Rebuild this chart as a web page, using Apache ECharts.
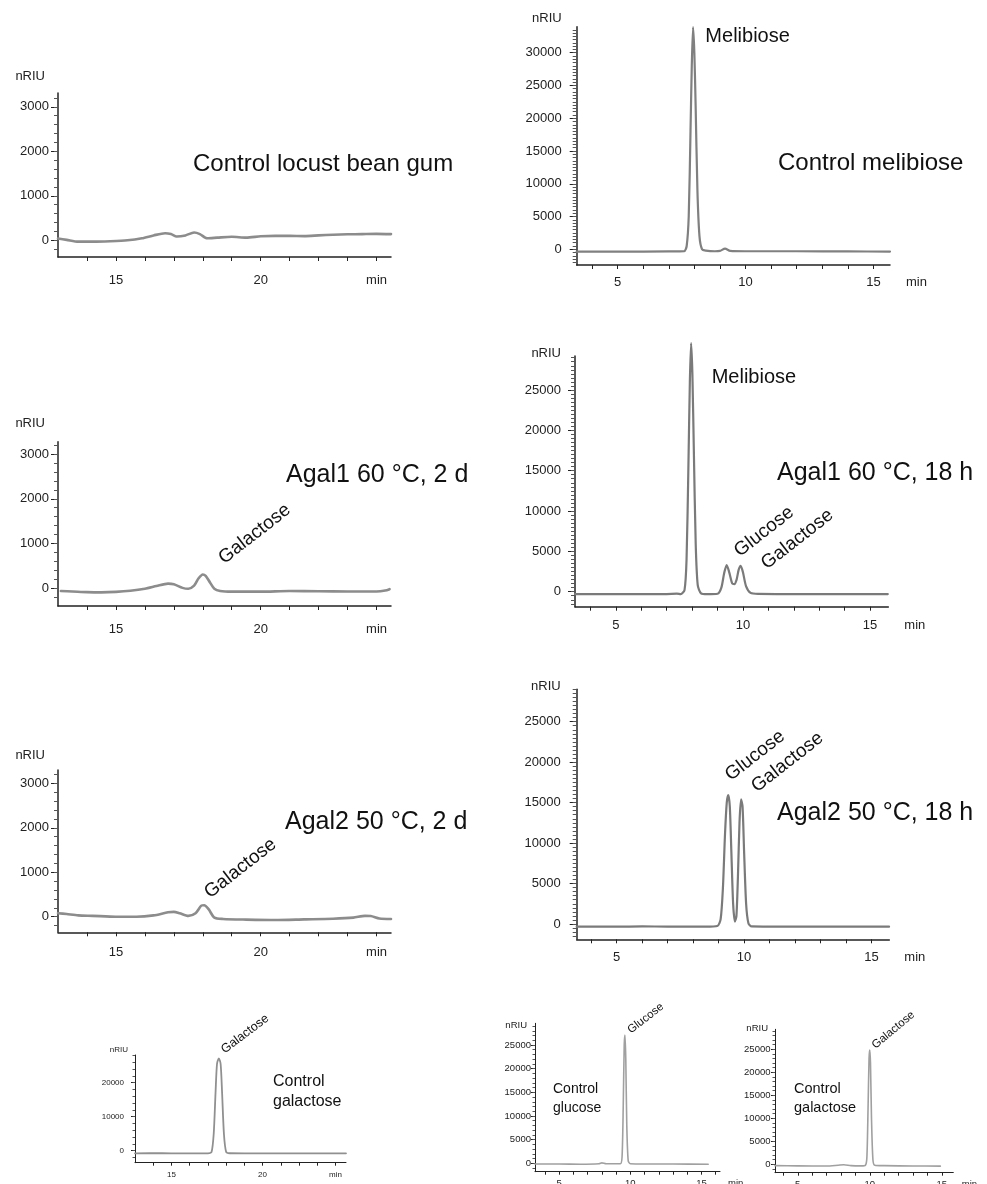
<!DOCTYPE html>
<html>
<head>
    <meta charset="utf-8">
    <script src="https://cdn.jsdelivr.net/npm/echarts@6/dist/echarts.min.js"></script>
</head>
<body style="margin:0;background:#fff">
<div id="main" style="width:987px;height:1184px;"></div>
<script type="text/javascript">
    // traces: [retention time (min), signal (nRIU)]
    var locustBeanGum = [[13.0, 40], [13.3, 10], [13.7, -30], [14.2, -30], [14.8, -20], [15.4, 0], [15.9, 45], [16.3, 110],
        [16.7, 160], [16.9, 140], [17.1, 85], [17.4, 110], [17.7, 175], [17.9, 140], [18.15, 45], [18.5, 60], [19.0, 80],
        [19.5, 60], [20.0, 90], [20.5, 100], [21.0, 100], [21.5, 95], [22.0, 110], [22.5, 125], [23.0, 135], [23.5, 140],
        [24.0, 145], [24.5, 140]];
    var melibiose = [[3.4, -350], [5.0, -350], [7.0, -330], [7.6, -300], [7.7, 500], [7.78, 5000], [7.85, 18000],
        [7.9, 28000], [7.95, 33900], [8.0, 30000], [8.05, 22000], [8.12, 9000], [8.2, 2000], [8.3, 0], [8.45, -200],
        [8.8, -300], [9.0, -250], [9.2, 100], [9.4, -250], [10.0, -300], [12.0, -300], [14.0, -330], [15.65, -350]];
    var agal1TwoDays = [[13.1, -60], [13.5, -70], [14.0, -85], [14.5, -90], [15.0, -80], [15.5, -55], [16.0, -10],
        [16.4, 50], [16.8, 105], [17.0, 90], [17.3, 10], [17.5, -10], [17.7, 60], [17.85, 220], [18.0, 310], [18.1, 280],
        [18.25, 130], [18.4, -10], [18.6, -60], [19.0, -75], [20.0, -75], [21.0, -60], [22.0, -65], [23.0, -70],
        [24.0, -70], [24.3, -50], [24.45, -20]];
    var agal1Overnight = [[3.39, -300], [5.0, -300], [7.0, -290], [7.4, -250], [7.55, -300], [7.7, 200], [7.78, 4000],
        [7.85, 15000], [7.91, 26000], [7.96, 30800], [8.01, 27000], [8.07, 17000], [8.14, 6000], [8.22, 800],
        [8.35, -200], [8.6, -300], [9.0, -250], [9.15, 500], [9.26, 2300], [9.36, 3300], [9.46, 2400], [9.58, 1000],
        [9.66, 950], [9.75, 1500], [9.83, 2700], [9.91, 3200], [10.0, 2400], [10.12, 700], [10.3, -150], [10.6, -280],
        [12.0, -300], [14.0, -300], [15.7, -300]];
    var agal2TwoDays = [[13.0, 80], [13.3, 60], [13.7, 30], [14.2, 20], [15.0, 0], [15.7, 0], [16.3, 30], [16.8, 100],
        [17.0, 110], [17.2, 80], [17.5, 20], [17.75, 80], [17.95, 250], [18.05, 260], [18.2, 170], [18.4, -20],
        [18.7, -50], [19.5, -65], [20.5, -75], [21.5, -60], [22.5, -45], [23.2, -20], [23.6, 20], [23.8, 15],
        [24.1, -40], [24.5, -50]];
    var agal2Overnight = [[3.43, -330], [5.0, -330], [6.0, -300], [7.0, -320], [8.5, -330], [8.95, -250], [9.08, 600],
        [9.17, 4500], [9.25, 11000], [9.32, 15000], [9.38, 15940], [9.44, 14500], [9.5, 9000], [9.57, 2500], [9.64, 300],
        [9.7, 1000], [9.76, 6000], [9.82, 12500], [9.88, 15400], [9.94, 14500], [10.0, 9000], [10.08, 2500],
        [10.17, 100], [10.3, -300], [12.0, -330], [15.69, -330]];
    var galactoseLongColumn = [[13.0, -770], [14.5, -750], [15.5, -800], [16.5, -780], [17.0, -760], [17.2, -400],
        [17.32, 5000], [17.42, 17000], [17.5, 25500], [17.6, 27180], [17.7, 25500], [17.78, 17000], [17.88, 5000],
        [18.0, -300], [18.2, -750], [19.0, -770], [21.0, -770], [23.0, -780], [24.58, -780]];
    var glucoseStandard = [[3.3, -150], [5.0, -150], [6.5, -200], [7.8, -100], [8.0, 100], [8.3, -100], [9.3, -100],
        [9.42, 1500], [9.5, 12000], [9.57, 25000], [9.62, 27110], [9.68, 22000], [9.75, 8000], [9.85, 500],
        [10.0, -100], [11.0, -150], [13.0, -150], [15.47, -200]];
    var galactoseStandard = [[3.42, -300], [5.0, -350], [7.0, -370], [7.8, -200], [8.2, -100], [8.7, -300],
        [9.4, -350], [9.7, -200], [9.8, 1500], [9.88, 12000], [9.95, 23000], [10.0, 24850], [10.05, 22000],
        [10.12, 10000], [10.22, 1000], [10.35, -200], [11.0, -300], [13.0, -370], [14.9, -400]];

    // axis ticks and labels
    var shortRunTicks = [14, 15, 16, 17, 18, 19, 20, 21, 22, 23, 24];
    var shortRunLabels = [15, 20, 24];
    var longRunTicks = [4, 5, 6, 7, 8, 9, 10, 11, 12, 13, 14, 15];
    var longRunLabels = [5, 10, 15];
    var lowSignalLabels = [0, 1000, 2000, 3000];
    var highSignalLabels = [0, 5000, 10000, 15000, 20000, 25000, 30000];
    var standardLabels = [0, 10000, 20000];

    var FONT = '"Liberation Sans", Arial, Helvetica, sans-serif';

    var big = {font: 13, majorLen: 7, minorLen: 4, xTickLen: 4, axisWidth: 1.5};
    var small = {font: 8, majorLen: 4, minorLen: 2.5, xTickLen: 3, axisWidth: 1};
    var smallB = {font: 9.5, majorLen: 4, minorLen: 2.5, xTickLen: 3, axisWidth: 1};

    var panels = [
        {trace: locustBeanGum, grid: {left: 58, top: 93, width: 333, height: 164}, x: [13, 24.5], y: [-375, 3310],
            xTicks: shortRunTicks, xLabels: shortRunLabels, yLabels: lowSignalLabels, minor: 200, st: big,
            xMargin: 17, yMargin: 9, nameGap: 17, namePad: 13, line: ['#8c8c8c', 2.6],
            title: {text: 'Control locust bean gum', x: 193, y: 164, size: 24}, notes: []},
        {trace: melibiose, grid: {left: 576.7, top: 26.7, width: 313.3, height: 238.3}, x: [3.4, 15.65], y: [-2400, 33970],
            xTicks: longRunTicks, xLabels: longRunLabels, yLabels: highSignalLabels, minor: 500, st: big,
            xMargin: 11, yMargin: 15, nameGap: 8, namePad: 15, xName: [16, 11], line: ['#808080', 2.2],
            title: {text: 'Control melibiose', x: 778, y: 163, size: 24},
            notes: [{text: 'Melibiose', at: [8.43, 32550], angle: 0, size: 20, align: 'left'}]},
        {trace: agal1TwoDays, grid: {left: 58, top: 441.7, width: 333, height: 164.3}, x: [13, 24.5], y: [-395, 3275],
            xTicks: shortRunTicks, xLabels: shortRunLabels, yLabels: lowSignalLabels, minor: 200, st: big,
            xMargin: 17, yMargin: 9, nameGap: 18, namePad: 13, line: ['#8c8c8c', 2.6],
            title: {text: 'Agal1 60 °C, 2 d', x: 286, y: 475, size: 25},
            notes: [{text: 'Galactose', at: [19.79, 1213], angle: 38, size: 19}]},
        {trace: agal1Overnight, grid: {left: 575, top: 356, width: 313.3, height: 250.7}, x: [3.39, 15.72], y: [-1860, 29210],
            xTicks: longRunTicks, xLabels: longRunLabels, yLabels: highSignalLabels, minor: 500, st: big,
            xMargin: 12, yMargin: 14, nameGap: 3, namePad: 14, xName: [16, 12], line: ['#7a7a7a', 2.2],
            title: {text: 'Agal1 60 °C, 18 h', x: 777, y: 473, size: 25},
            notes: [{text: 'Melibiose', at: [8.77, 26490], angle: 0, size: 20, align: 'left'},
                {text: 'Glucose', at: [10.83, 7437], angle: 38, size: 19},
                {text: 'Galactose', at: [12.14, 6495], angle: 38, size: 19}]},
        {trace: agal2TwoDays, grid: {left: 58, top: 770, width: 333, height: 162.3}, x: [13, 24.5], y: [-350, 3300],
            xTicks: shortRunTicks, xLabels: shortRunLabels, yLabels: lowSignalLabels, minor: 200, st: big,
            xMargin: 14, yMargin: 9, nameGap: 15, namePad: 13, line: ['#8c8c8c', 2.6],
            title: {text: 'Agal2 50 °C, 2 d', x: 285, y: 822, size: 25},
            notes: [{text: 'Galactose', at: [19.3, 1088], angle: 38, size: 19}]},
        {trace: agal2Overnight, grid: {left: 576.7, top: 689.3, width: 312.6, height: 250}, x: [3.43, 15.7], y: [-1890, 29000],
            xTicks: longRunTicks, xLabels: longRunLabels, yLabels: highSignalLabels, minor: 500, st: big,
            xMargin: 12, yMargin: 16, nameGap: 3, namePad: 16, xName: [15, 12], line: ['#7a7a7a', 2.2],
            title: {text: 'Agal2 50 °C, 18 h', x: 777, y: 813, size: 25},
            notes: [{text: 'Glucose', at: [10.43, 20800], angle: 38, size: 19},
                {text: 'Galactose', at: [11.7, 19980], angle: 38, size: 19}]},
        {trace: galactoseLongColumn, grid: {left: 135, top: 1055, width: 211, height: 107.7}, x: [13, 24.58], y: [-3530, 28150],
            xTicks: shortRunTicks, xLabels: shortRunLabels, yLabels: standardLabels, minor: 2000, st: small,
            xMargin: 8, yMargin: 11, nameGap: 5, namePad: 7, line: ['#909090', 1.8],
            title: {text: 'Control\ngalactose', x: 273, y: 1092, size: 16, lh: 20},
            notes: [{text: 'Galactose', at: [19.04, 34320], angle: 37, size: 12.5}]},
        {trace: glucoseStandard, grid: {left: 535, top: 1023.3, width: 185, height: 148.4}, x: [3.3, 16.3], y: [-1775, 29590],
            xTicks: longRunTicks.concat([16]), xLabels: longRunLabels, yLabels: highSignalLabels, minor: 1000, st: smallB,
            xMargin: 7, yMargin: 4, nameGap: -2, namePad: 8, xName: [8, 7], line: ['#a0a0a0', 1.6],
            title: {text: 'Control\nglucose', x: 553, y: 1099, size: 14, lh: 19},
            notes: [{text: 'Glucose', at: [11.08, 30640], angle: 38, size: 11.5}]},
        {trace: galactoseStandard, grid: {left: 775, top: 1029.3, width: 178.3, height: 143.4}, x: [3.42, 15.8], y: [-1830, 29350],
            xTicks: longRunTicks, xLabels: longRunLabels, yLabels: highSignalLabels, minor: 1000, st: smallB,
            xMargin: 7, yMargin: 4.5, nameGap: 1, namePad: 7, xName: [8.5, 7], line: ['#a0a0a0', 1.6],
            title: {text: 'Control\ngalactose', x: 794, y: 1098, size: 14.5, lh: 19},
            notes: [{text: 'Galactose', at: [11.64, 29200], angle: 40, size: 11.5}]}
    ];

    function stepsWithin(lo, hi, step) {
        var out = [];
        for (var v = Math.ceil(lo / step) * step; v <= hi; v += step) out.push(v);
        return out;
    }
    function within(list, lo, hi) {
        return list.filter(function (v) { return v >= lo && v <= hi; });
    }

    var grids = [], xAxes = [], yAxes = [], series = [], titles = [];
    var axisColor = '#222';

    panels.forEach(function (p, i) {
        var st = p.st;
        // fixed boxes: don't let v6 squeeze the grid to keep labels on canvas
        grids.push(Object.assign({containLabel: false, outerBoundsMode: 'none'}, p.grid));
        xAxes.push({
            type: 'value', gridIndex: i, min: p.x[0], max: p.x[1], position: 'bottom',
            splitLine: {show: false},
            axisLine: {onZero: false, lineStyle: {color: axisColor, width: st.axisWidth}},
            axisTick: {customValues: p.xTicks, length: st.xTickLen, lineStyle: {color: axisColor, width: 1}},
            axisLabel: {
                customValues: p.xLabels, margin: p.xMargin, color: axisColor, fontSize: st.font, fontFamily: FONT,
                formatter: function (v) { return (!p.xName && v === 24) ? 'min' : String(v); }
            },
            name: p.xName ? 'min' : '', nameLocation: 'end', nameGap: p.xName ? p.xName[0] : 0,
            nameTextStyle: {color: axisColor, fontSize: st.font, fontFamily: FONT, verticalAlign: 'top',
                align: 'left', padding: [p.xName ? p.xName[1] : 0, 0, 0, 0]}
        });
        yAxes.push({
            type: 'value', gridIndex: i, min: p.y[0], max: p.y[1], position: 'left',
            splitLine: {show: false},
            axisLine: {onZero: false, lineStyle: {color: axisColor, width: st.axisWidth}},
            axisTick: {customValues: within(p.yLabels, p.y[0], p.y[1]), length: st.majorLen, lineStyle: {color: axisColor, width: 1}},
            axisLabel: {customValues: within(p.yLabels, p.y[0], p.y[1]), margin: p.yMargin, color: axisColor,
                fontSize: st.font, fontFamily: FONT, formatter: function (v) { return String(v); }},
            name: 'nRIU', nameLocation: 'end', nameGap: p.nameGap,
            nameTextStyle: {color: axisColor, fontSize: st.font, fontFamily: FONT, align: 'right',
                verticalAlign: 'middle', padding: [0, p.namePad, 0, 0]}
        });
        // second axis only carries the fine minor ticks
        yAxes.push({
            type: 'value', gridIndex: i, min: p.y[0], max: p.y[1], position: 'left', offset: 0,
            splitLine: {show: false}, axisLine: {show: false}, axisLabel: {show: false},
            axisTick: {customValues: stepsWithin(p.y[0], p.y[1], p.minor), length: st.minorLen,
                lineStyle: {color: '#555', width: 1}}
        });
        series.push({
            type: 'line', xAxisIndex: i, yAxisIndex: i * 2, data: p.trace,
            symbol: 'none', smooth: 0.25, clip: false,
            lineStyle: {color: p.line[0], width: p.line[1], join: 'round', cap: 'round'}
        });
        titles.push({
            type: 'text', x: p.title.x, y: p.title.y, silent: true,
            style: {text: p.title.text, fill: '#111', fontSize: p.title.size, fontFamily: FONT,
                align: 'left', verticalAlign: 'middle', lineHeight: p.title.lh || p.title.size * 1.2}
        });
    });

    var myChart = echarts.init(document.getElementById('main'));
    var option = {
        backgroundColor: '#fff',
        animation: false,
        grid: grids,
        xAxis: xAxes,
        yAxis: yAxes,
        series: series,
        graphic: titles
    };
    myChart.setOption(option);

    // peak names, placed through each panel's own scales
    var notes = titles.slice();
    panels.forEach(function (p, i) {
        p.notes.forEach(function (n) {
            var pt = myChart.convertToPixel({gridIndex: i}, n.at);
            notes.push({
                type: 'text', x: pt[0], y: pt[1], rotation: n.angle * Math.PI / 180, silent: true,
                style: {text: n.text, fill: '#111', fontSize: n.size, fontFamily: FONT,
                    align: n.align || 'center', verticalAlign: 'middle'}
            });
        });
    });
    myChart.setOption({graphic: notes});
</script>
</body>
</html>
